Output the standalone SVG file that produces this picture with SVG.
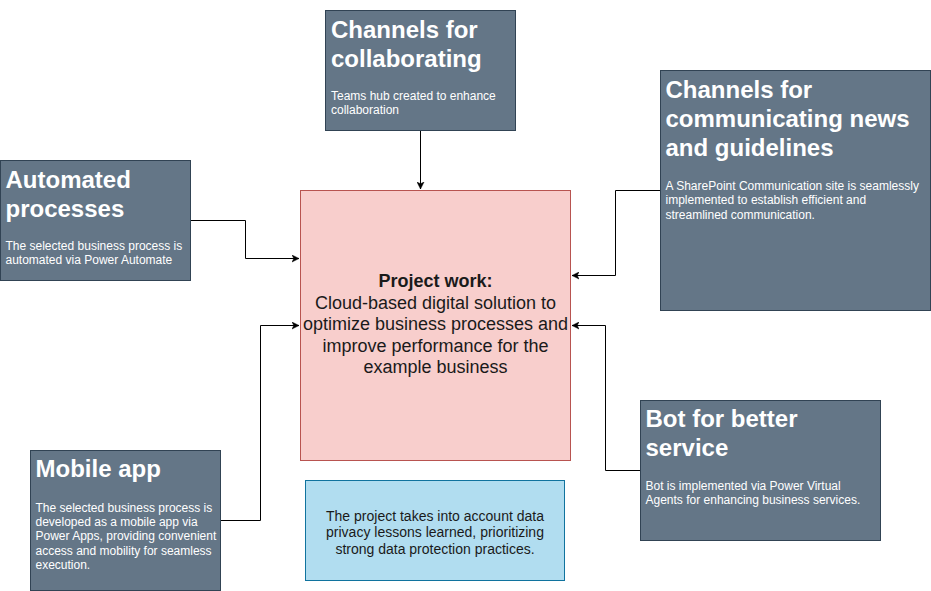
<svg xmlns="http://www.w3.org/2000/svg" width="931" height="591" viewBox="0 0 931 591">
<style>
.dark{fill:#647687;stroke:#314354;stroke-width:1}
.title{font-family:"Liberation Sans",Arial,Helvetica,sans-serif;font-size:24px;font-weight:bold;fill:#ffffff}
.body{font-family:"Liberation Sans",Arial,Helvetica,sans-serif;font-size:12px;fill:#ffffff}
.conn{fill:none;stroke:#000000;stroke-width:1}
.center{font-family:"Liberation Sans",Arial,Helvetica,sans-serif;font-size:18px;fill:#1a1a1a;text-anchor:middle}
.note{font-family:"Liberation Sans",Arial,Helvetica,sans-serif;font-size:14px;fill:#1a1a1a;text-anchor:middle}
</style>
<defs>
<marker id="arrow" markerWidth="8" markerHeight="8" refX="7" refY="4" orient="auto" markerUnits="userSpaceOnUse">
<path d="M0,0.5 L7,4 L0,7.5 L1.8,4 Z" fill="#000000" stroke="#000000" stroke-width="0.5"/>
</marker>
</defs>
<rect width="931" height="591" fill="#ffffff"/>

<g id="connectors">
<path class="conn" d="M420.5,130.5 V189" marker-end="url(#arrow)"/>
<path class="conn" d="M190.5,220.5 H245.5 V258.5 H299" marker-end="url(#arrow)"/>
<path class="conn" d="M660.5,190.5 H615.5 V275.5 H572" marker-end="url(#arrow)"/>
<path class="conn" d="M220.5,520.5 H260.5 V325.5 H299" marker-end="url(#arrow)"/>
<path class="conn" d="M640.5,470.5 H605.5 V325.5 H572" marker-end="url(#arrow)"/>
</g>

<g id="project">
<rect x="300.5" y="190.5" width="270" height="270" fill="#f8cecc" stroke="#b85450"/>
<text class="center" x="435.5" y="287" font-weight="bold">Project work:</text>
<text class="center" x="435.5" y="308.6">Cloud-based digital solution to</text>
<text class="center" x="435.5" y="330.2">optimize business processes and</text>
<text class="center" x="435.5" y="351.8">improve performance for the</text>
<text class="center" x="435.5" y="373.4">example business</text>
</g>

<g id="collaborating">
<rect class="dark" x="325.5" y="10.5" width="190" height="120"/>
<text class="title" x="331" y="38">Channels for</text>
<text class="title" x="331" y="67">collaborating</text>
<text class="body" x="331" y="100">Teams hub created to enhance</text>
<text class="body" x="331" y="114.4">collaboration</text>
</g>

<g id="automated">
<rect class="dark" x="0.5" y="160.5" width="190" height="120"/>
<text class="title" x="5.5" y="187.5">Automated</text>
<text class="title" x="5.5" y="216.5">processes</text>
<text class="body" x="5.5" y="250">The selected business process is</text>
<text class="body" x="5.5" y="264.4">automated via Power Automate</text>
</g>

<g id="communicating">
<rect class="dark" x="660.5" y="70.5" width="270" height="240"/>
<text class="title" x="665.5" y="98">Channels for</text>
<text class="title" x="665.5" y="127">communicating news</text>
<text class="title" x="665.5" y="156">and guidelines</text>
<text class="body" x="665.5" y="190">A SharePoint Communication site is seamlessly</text>
<text class="body" x="665.5" y="204.4">implemented to establish efficient and</text>
<text class="body" x="665.5" y="218.8">streamlined communication.</text>
</g>

<g id="mobile">
<rect class="dark" x="30.5" y="450.5" width="190" height="140"/>
<text class="title" x="35.5" y="477">Mobile app</text>
<text class="body" x="35.5" y="511.5">The selected business process is</text>
<text class="body" x="35.5" y="525.9">developed as a mobile app via</text>
<text class="body" x="35.5" y="540.3">Power Apps, providing convenient</text>
<text class="body" x="35.5" y="554.7">access and mobility for seamless</text>
<text class="body" x="35.5" y="569.1">execution.</text>
</g>

<g id="bot">
<rect class="dark" x="640.5" y="400.5" width="240" height="140"/>
<text class="title" x="645.5" y="427">Bot for better</text>
<text class="title" x="645.5" y="456">service</text>
<text class="body" x="645.5" y="489.5">Bot is implemented via Power Virtual</text>
<text class="body" x="645.5" y="503.9">Agents for enhancing business services.</text>
</g>

<g id="privacy">
<rect x="305.5" y="480.5" width="259" height="100" fill="#b1ddf0" stroke="#10739e"/>
<text class="note" x="435" y="520.5">The project takes into account data</text>
<text class="note" x="435" y="537.3">privacy lessons learned, prioritizing</text>
<text class="note" x="435" y="554.1">strong data protection practices.</text>
</g>
</svg>
